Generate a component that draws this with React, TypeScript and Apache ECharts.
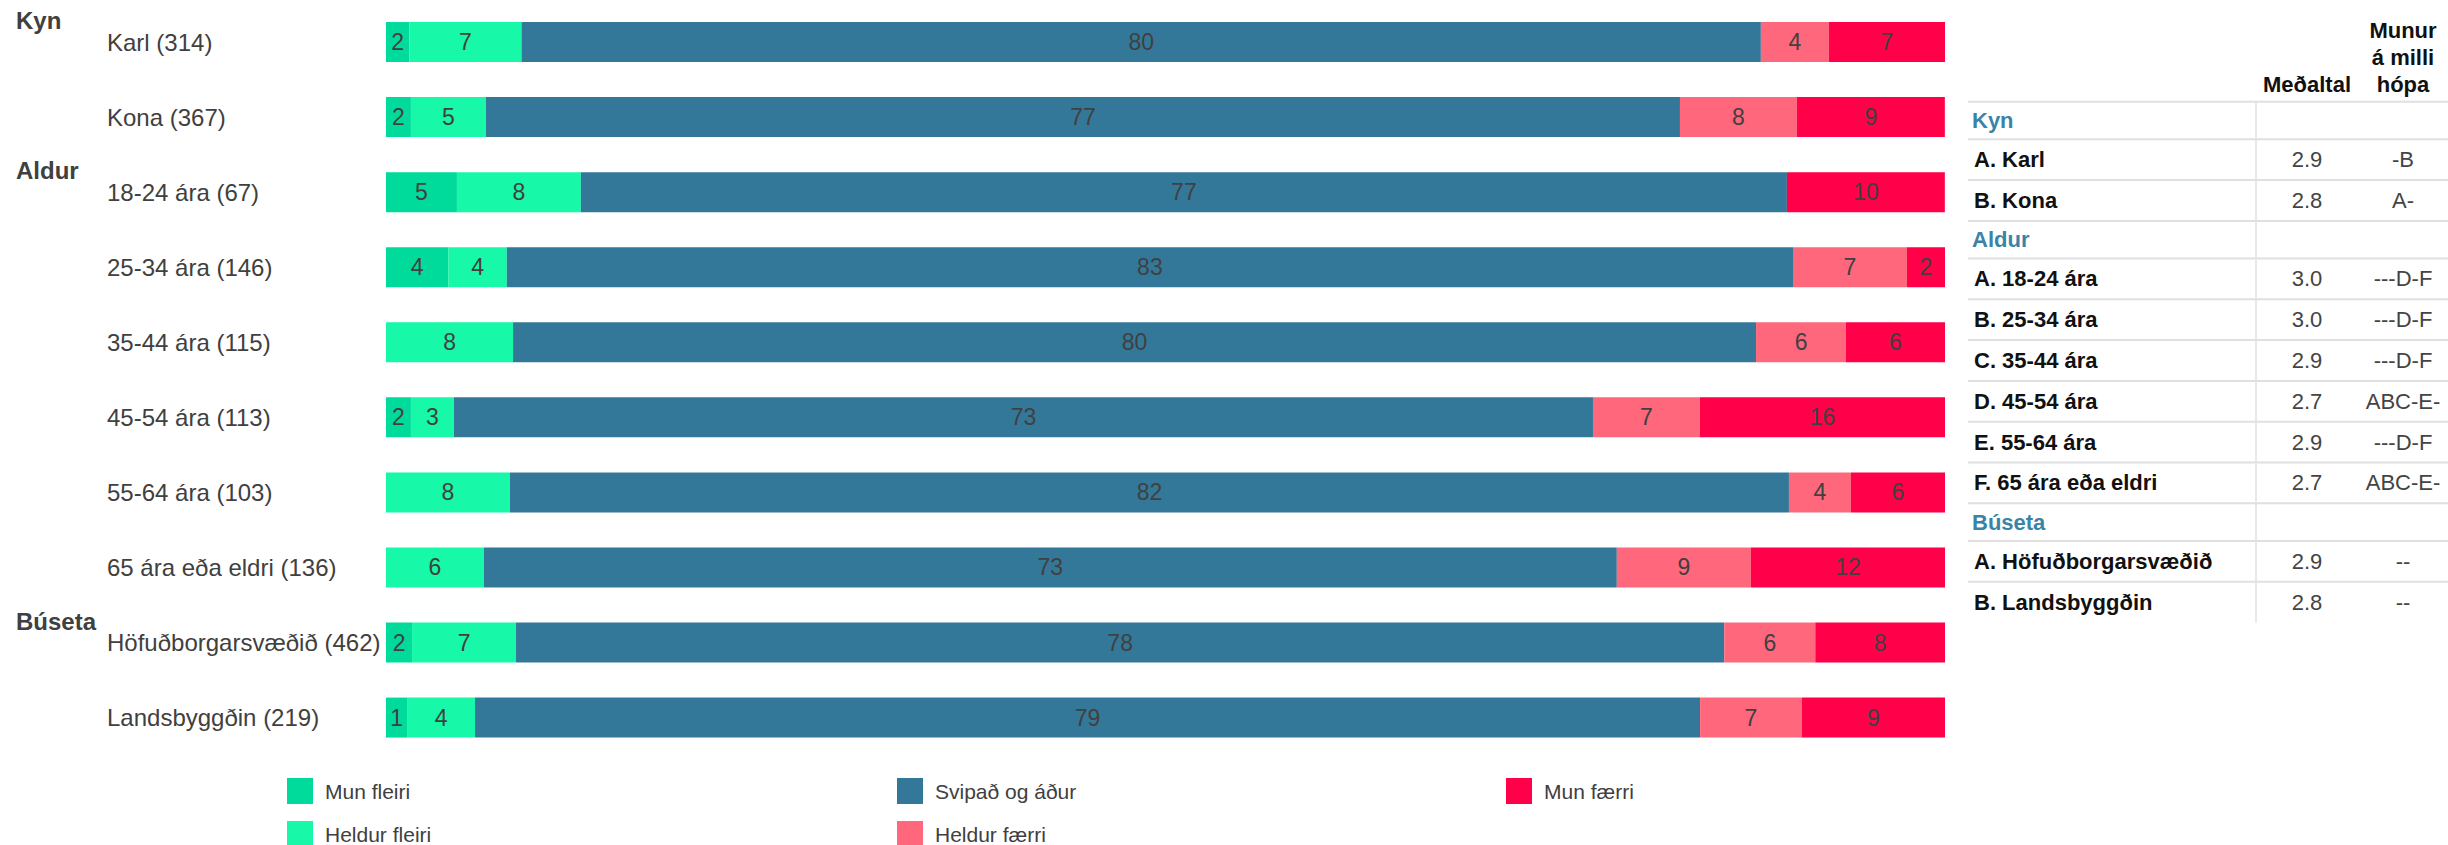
import React, { useEffect, useRef } from "react";
import * as echarts from "echarts";

const FONT = '"Liberation Sans", Arial, Helvetica, sans-serif';

const categories = [
  "Karl (314)",
  "Kona (367)",
  "18-24 ára (67)",
  "25-34 ára (146)",
  "35-44 ára (115)",
  "45-54 ára (113)",
  "55-64 ára (103)",
  "65 ára eða eldri (136)",
  "Höfuðborgarsvæðið (462)",
  "Landsbyggðin (219)",
];

const groupNames = ["Kyn", "Aldur", "Búseta"];
const groupFirstCategory = ["Karl (314)", "18-24 ára (67)", "Höfuðborgarsvæðið (462)"];

const seriesNames = ["Mun fleiri", "Heldur fleiri", "Svipað og áður", "Heldur færri", "Mun færri"];
const munFleiri = [1.5, 1.6, 4.55, 4.0, 0, 1.6, 0, 0, 1.67, 1.35];
const heldurFleiri = [7.19, 4.81, 7.95, 3.75, 8.15, 2.76, 7.95, 6.28, 6.67, 4.36];
const svipadOgAdur = [79.5, 76.59, 77.36, 82.5, 79.73, 73.06, 82.04, 72.67, 77.5, 78.58];
const heldurFaerri = [4.36, 7.5, 0, 7.31, 5.77, 6.86, 3.98, 8.6, 5.84, 6.52];
const munFaerri = [7.45, 9.49, 10.13, 2.45, 6.35, 15.72, 6.03, 12.45, 8.34, 9.2];
const seriesColors = ["#00db9b", "#17f9a8", "#347899", "#ff687c", "#ff0049"];

const tableGroups = ["Kyn", "Aldur", "Búseta"];
const tableLabels = [
  ["A. Karl", "B. Kona"],
  ["A. 18-24 ára", "B. 25-34 ára", "C. 35-44 ára", "D. 45-54 ára", "E. 55-64 ára", "F. 65 ára eða eldri"],
  ["A. Höfuðborgarsvæðið", "B. Landsbyggðin"],
];
const tableMeans = [
  [2.9, 2.8],
  [3.0, 3.0, 2.9, 2.7, 2.9, 2.7],
  [2.9, 2.8],
];
const tableDiffs = [
  ["-B", "A-"],
  ["---D-F", "---D-F", "---D-F", "ABC-E-", "---D-F", "ABC-E-"],
  ["--", "--"],
];

function txt(text: string, x: number, y: number, font: string, fill: string, align = "left", lineHeight?: number) {
  return {
    type: "text",
    x,
    y,
    silent: true,
    style: {
      text,
      font,
      fill,
      align,
      verticalAlign: "middle",
      textAlign: align,
      textVerticalAlign: "middle",
      lineHeight,
    },
  };
}

function hline(x1: number, x2: number, y: number) {
  return {
    type: "line",
    silent: true,
    shape: { x1, y1: y, x2, y2: y },
    style: { stroke: "#e0e0e0", lineWidth: 2 },
  };
}

export default function App() {
  const ref = useRef<HTMLDivElement>(null);
  useEffect(() => {
    if (!ref.current) return;
    const chart = echarts.init(ref.current, undefined, { renderer: "svg" });
    const data = [munFleiri, heldurFleiri, svipadOgAdur, heldurFaerri, munFaerri];
    const mkLegend = (names: string[], left: number) => ({
      data: names,
      left,
      top: 778,
      height: 120,
      orient: "vertical",
      icon: "rect",
      itemWidth: 26,
      itemHeight: 26,
      itemGap: 17,
      padding: 0,
      selectedMode: false,
      textStyle: { fontFamily: FONT, fontSize: 21, color: "#404040", padding: [0, 0, 0, 7] },
    });
    chart.setOption({
      animation: false,
      backgroundColor: "#ffffff",
      grid: { left: 386, width: 1559, top: 4.5, height: 750.6, containLabel: false },
      xAxis: { type: "value", min: 0, max: 100, show: false },
      yAxis: {
        type: "category",
        data: categories,
        inverse: true,
        axisLine: { show: false },
        axisTick: { show: false },
        axisLabel: {
          align: "left",
          margin: 279,
          fontFamily: FONT,
          fontSize: 24,
          color: "#404040",
        },
      },
      legend: [
        mkLegend(["Mun fleiri", "Heldur fleiri"], 287),
        mkLegend(["Svipað og áður", "Heldur færri"], 897),
        mkLegend(["Mun færri"], 1506),
      ],
      series: seriesNames.map((name, i) => ({
        name,
        type: "bar",
        stack: "total",
        barWidth: 40,
        data: data[i],
        itemStyle: { color: seriesColors[i] },
        label: {
          show: true,
          position: "inside",
          fontFamily: FONT,
          fontSize: 23,
          color: "#404040",
          formatter: (p: any) => {
            const v = Math.round(p.value);
            return v > 0 ? String(v) : "";
          },
        },
      })),
    });

    const graphics: any[] = [];
    groupNames.forEach((g, i) => {
      const py = chart.convertToPixel({ yAxisIndex: 0 }, groupFirstCategory[i]) as number;
      graphics.push(txt(g, 16, py - 21.5, `bold 24px ${FONT}`, "#404040"));
    });

    const tLeft = 1968;
    const tRight = 2448;
    const meanX = 2307;
    const diffX = 2403;
    const groupH = 37.6;
    const rowH = 40.8;
    let y = 101.7;
    graphics.push(txt("Meðaltal", meanX, 84, `bold 22px ${FONT}`, "#111111", "center"));
    graphics.push(txt("Munur\ná milli\nhópa", diffX, 57.3, `bold 22px ${FONT}`, "#111111", "center", 27));
    graphics.push(hline(tLeft, tRight, y));
    const top = y;
    tableGroups.forEach((g, gi) => {
      graphics.push(txt(g, 1972, y + groupH / 2, `bold 22px ${FONT}`, "#3a84a8"));
      y += groupH;
      graphics.push(hline(tLeft, tRight, y));
      tableLabels[gi].forEach((lab, ri) => {
        const cy = y + rowH / 2;
        graphics.push(txt(lab, 1974, cy, `bold 22px ${FONT}`, "#111111"));
        graphics.push(txt(tableMeans[gi][ri].toFixed(1), meanX, cy, `22px ${FONT}`, "#444444", "center"));
        graphics.push(txt(tableDiffs[gi][ri], diffX, cy, `22px ${FONT}`, "#444444", "center"));
        y += rowH;
        const last = gi === tableGroups.length - 1 && ri === tableLabels[gi].length - 1;
        if (!last) graphics.push(hline(tLeft, tRight, y));
      });
    });
    graphics.push({
      type: "line",
      silent: true,
      shape: { x1: 2256, y1: top, x2: 2256, y2: y },
      style: { stroke: "#e2e2e2", lineWidth: 1.5 },
    });

    chart.setOption({ graphic: graphics });

    return () => chart.dispose();
  }, []);
  return (
    <div
      ref={ref}
      style={{ position: "absolute", left: 0, top: 0, width: 2448, height: 845, background: "#fff" }}
    />
  );
}
